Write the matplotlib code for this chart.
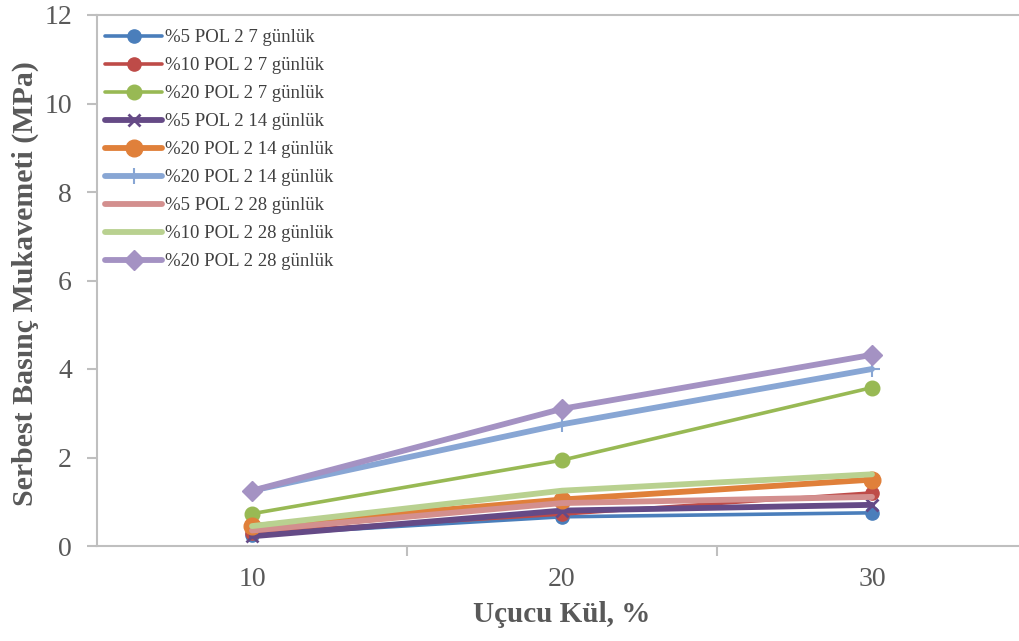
import matplotlib
matplotlib.use('Agg')
import matplotlib.pyplot as plt
from matplotlib.ticker import FixedLocator

plt.rcParams['font.family'] = ['Liberation Serif', 'DejaVu Serif']

# Uçucu kül oranı (%) ve serbest basınç mukavemeti (MPa)
ucucu_kul = [10, 20, 30]
labels = ["%5 POL 2 7 günlük", "%10 POL 2 7 günlük", "%20 POL 2 7 günlük",
          "%5 POL 2 14 günlük", "%20 POL 2 14 günlük", "%20 POL 2 14 günlük",
          "%5 POL 2 28 günlük", "%10 POL 2 28 günlük", "%20 POL 2 28 günlük"]
pol5_7 = [0.25, 0.66, 0.75]
pol10_7 = [0.30, 0.72, 1.20]
pol20_7 = [0.73, 1.94, 3.58]
pol5_14 = [0.22, 0.80, 0.93]
pol20_14a = [0.45, 1.05, 1.50]
pol20_14b = [1.25, 2.75, 4.00]
pol5_28 = [0.35, 0.97, 1.11]
pol10_28 = [0.45, 1.25, 1.62]
pol20_28 = [1.25, 3.10, 4.32]

series = [pol5_7, pol10_7, pol20_7, pol5_14, pol20_14a, pol20_14b,
          pol5_28, pol10_28, pol20_28]
colors = ['#4A7EBB', '#BE4B48', '#98B954', '#654A86', '#E0803A',
          '#88A6D4', '#D38F8E', '#B9D190', '#A492C3']
markers = ['o', 'o', 'o', 'x', 'o', '+', None, None, 'D']
msizes = [9.5, 9.5, 10.5, 9, 12, 12, 0, 0, 10]
mews = [1, 1, 1, 2, 1, 1.5, 1, 1, 1]
widths = [2.6, 2.6, 2.6, 4.2, 4.2, 4.2, 4.2, 4.2, 4.2]

fig = plt.figure(figsize=(10.19, 6.41), dpi=100)
W, H = 1019.0, 641.0
ax = fig.add_axes([97 / W, 1 - 546 / H, 930 / W, 531 / H])

for i, vals in enumerate(series):
    ax.plot(ucucu_kul, vals, color=colors[i], lw=widths[i], marker=markers[i],
            markersize=msizes[i], markeredgewidth=mews[i],
            markeredgecolor=colors[i], markerfacecolor=colors[i],
            label=labels[i], solid_capstyle='round', zorder=2 + i)

ax.set_xlim(5, 35)
ax.set_ylim(0, 12)
ax.set_xticks(ucucu_kul)
ax.xaxis.set_minor_locator(FixedLocator([15, 25, 35]))
ax.set_yticks(range(0, 13, 2))

gray = '#BFBFBF'
for side in ['left', 'bottom', 'top']:
    ax.spines[side].set_color(gray)
    ax.spines[side].set_linewidth(1.5)
ax.spines['right'].set_visible(False)

ax.tick_params(axis='x', which='major', length=0, pad=15, labelsize=20, labelcolor='#595959')
ax.tick_params(axis='x', which='minor', length=7, width=1.5, color=gray, direction='out')
ax.tick_params(axis='y', length=7, width=1.5, color=gray, direction='out',
               pad=11, labelsize=20, labelcolor='#595959')

fig.text(562 / W, 1 - 614 / H, "Uçucu Kül, %", fontsize=21, fontweight='bold',
         color='#595959', ha='center', va='center')
fig.text(25 / W, 1 - 284 / H, "Serbest Basınç Mukavemeti (MPa)", rotation=90,
         fontsize=21.5, fontweight='bold', color='#595959', ha='center', va='center')

leg = ax.legend(loc='upper left', bbox_to_anchor=(8 / 930, 1 - 14 / 531),
                frameon=False, fontsize=13.5, handlelength=3.05, handletextpad=0.16,
                labelspacing=0.58, borderaxespad=0, borderpad=0)
for t in leg.get_texts():
    t.set_color('#404040')

fig.savefig('out.png', dpi=100)
